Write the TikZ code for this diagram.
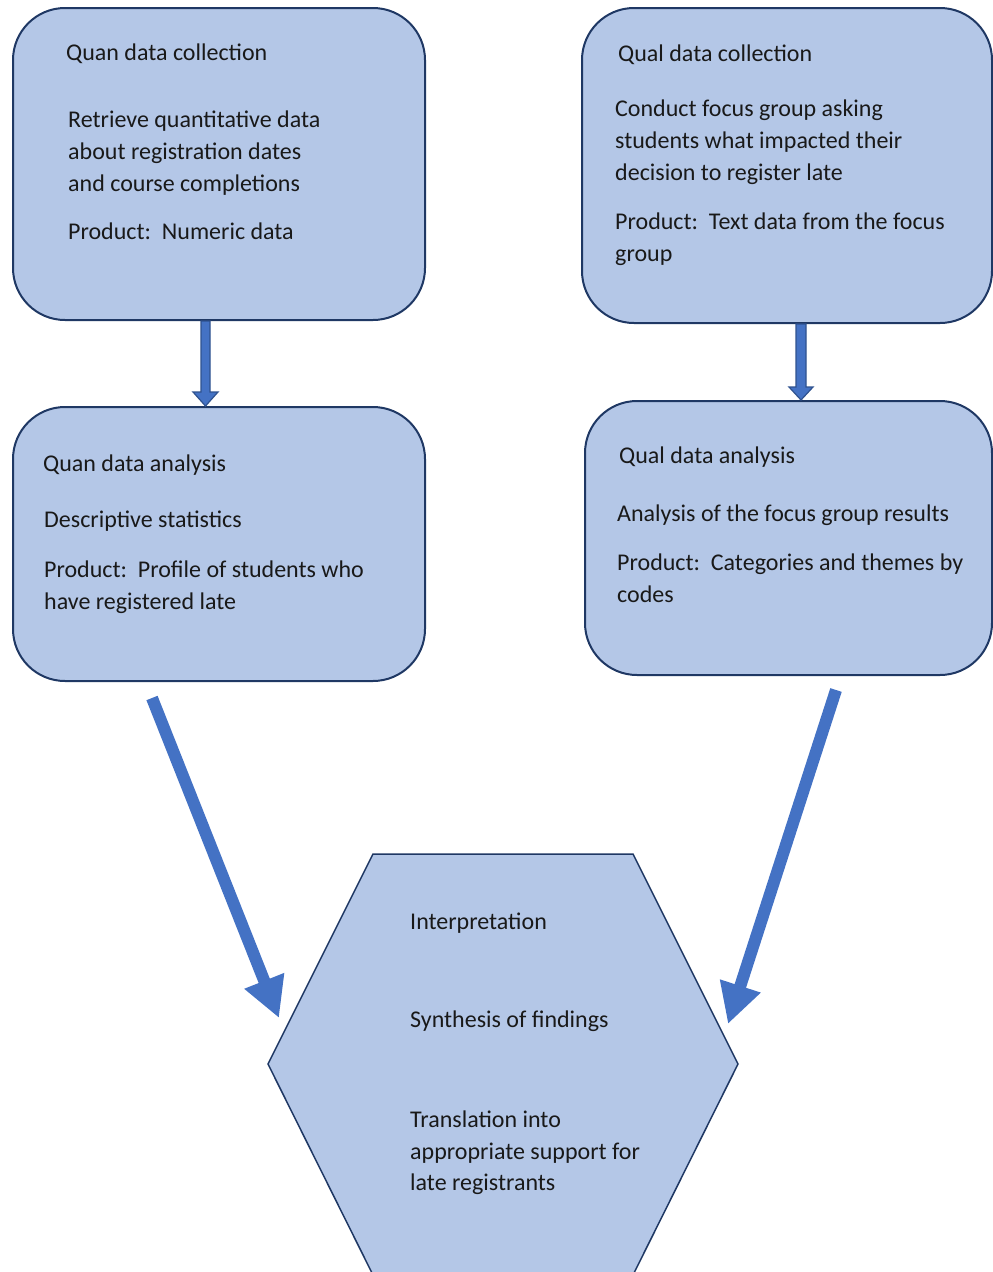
\documentclass[tikz,border=0pt]{standalone}
\usepackage{fontspec}
\setmainfont{Carlito}
\usetikzlibrary{arrows.meta,calc}
\definecolor{boxfill}{HTML}{B4C7E7}
\definecolor{boxline}{HTML}{1F3864}
\definecolor{arrowblue}{HTML}{4472C4}
\definecolor{arrowline}{HTML}{2F528F}
\tikzset{
  box/.style={draw=boxline, line width=2pt, fill=boxfill, rounded corners=52pt, inner sep=0pt},
  txt/.style={anchor=base west, inner sep=0pt, font=\fontsize{24}{32}\selectfont, text=black!90},
  blockarrow/.style={draw=arrowline, line width=1.2pt, fill=arrowblue, line join=miter},
  bigarrow/.style={draw=arrowblue, line width=12pt, -{Triangle[width=40pt,length=40pt]}},
  hexstyle/.style={draw=boxline, line width=1.5pt, fill=boxfill, line join=miter}
}
\begin{document}
\begin{tikzpicture}[x=1pt,y=-1pt]
\useasboundingbox (0,0) rectangle (993,1272);
\clip (0,0) rectangle (993,1272);
\fill[white] (0,0) rectangle (993,1272);

% boxes
\node[box, minimum width=412pt, minimum height=312pt] (q1) at (219,164) {};
\node[box, minimum width=410pt, minimum height=315pt] (q2) at (787,165.5) {};
\node[box, minimum width=412pt, minimum height=274pt] (q3) at (219,544) {};
\node[box, minimum width=407pt, minimum height=274pt] (q4) at (788.5,538) {};

% hexagon
\draw[hexstyle] (373,854) -- (633,854) -- (738,1064) -- (633,1275) -- (373,1275) -- (268,1064) -- cycle;
\coordinate (hex) at (503,1064);

% small block arrows
\draw[blockarrow] ($(q1.south)+(-18,0)$) -- ($(q1.south)+(-9,0)$) -- ($(q3.north)+(-9,-14)$) -- ($(q3.north)+(-1,-14)$) -- ($(q3.north)+(-13.5,0)$) -- ($(q3.north)+(-26,-14)$) -- ($(q3.north)+(-18,-14)$) -- cycle;
\draw[blockarrow] ($(q2.south)+(9,0)$) -- ($(q2.south)+(19,0)$) -- ($(q4.north)+(17.5,-13)$) -- ($(q4.north)+(24.5,-13)$) -- ($(q4.north)+(12.5,0)$) -- ($(q4.north)+(0.5,-13)$) -- ($(q4.north)+(7.5,-13)$) -- cycle;

% big arrows
\coordinate (la) at (152,698);
\coordinate (lb) at (279,1018);
\coordinate (ra) at (836,690);
\coordinate (rb) at (728,1024);
\draw[bigarrow] (la) -- (lb);
\draw[bigarrow] (ra) -- (rb);

% box 1 text
\node[txt] (t11) at (66,60) {Quan data collection};
\node[txt] (t12) at (68,127.5) {Retrieve quantitative data};
\node[txt] (t13) at (68,159.5) {about registration dates};
\node[txt] (t14) at (68,191.5) {and course completions};
\node[txt] (t15) at (68,239) {Product:\ \ Numeric data};

% box 2 text
\node[txt] (t21) at (618,61) {Qual data collection};
\node[txt] (t22) at (615,116) {Conduct focus group asking};
\node[txt] (t23) at (615,148) {students what impacted their};
\node[txt] (t24) at (615,180) {decision to register late};
\node[txt] (t25) at (615,229) {Product:\ \ Text data from the focus};
\node[txt] (t26) at (615,261) {group};

% box 3 text
\node[txt] (t31) at (43,471) {Quan data analysis};
\node[txt] (t32) at (44,527) {Descriptive statistics};
\node[txt] (t33) at (44,577) {Product:\ \ Profile of students who};
\node[txt] (t34) at (44,609) {have registered late};

% box 4 text
\node[txt] (t41) at (619,463) {Qual data analysis};
\node[txt] (t42) at (617,521) {Analysis of the focus group results};
\node[txt] (t43) at (617,570) {Product:\ \ Categories and themes by};
\node[txt] (t44) at (617,602) {codes};

% hexagon text
\node[txt] (h1) at (410,929) {Interpretation};
\node[txt] (h2) at (410,1027) {Synthesis of findings};
\node[txt] (h3) at (410,1127) {Translation into};
\node[txt] (h4) at (410,1159) {appropriate support for};
\node[txt] (h5) at (410,1190) {late registrants};
\end{tikzpicture}
\end{document}
